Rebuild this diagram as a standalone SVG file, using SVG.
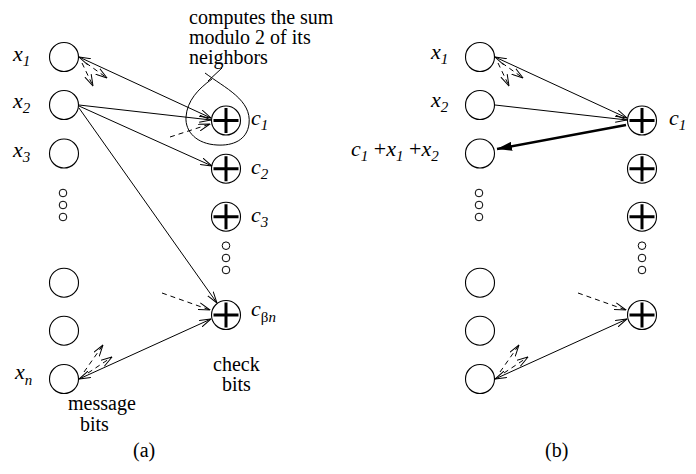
<svg xmlns="http://www.w3.org/2000/svg" width="696" height="474" viewBox="0 0 696 474">
<defs>
<style>
.nd{fill:none;stroke:#000;stroke-width:1.1}
.pl{stroke:#000;stroke-width:3}
.dot{fill:none;stroke:#000;stroke-width:1}
.ln{fill:none;stroke:#000;stroke-width:1}
.ds{fill:none;stroke:#000;stroke-width:1;stroke-dasharray:5,4}
.th{fill:none;stroke:#000;stroke-width:2.6}
.m{font-style:italic;font-size:22px;fill:#000}
.s{font-size:15px}
.t{font-size:20px;fill:#000}
</style>
<marker id="ah" viewBox="0 0 12 8" refX="11.5" refY="4" markerWidth="12" markerHeight="8" markerUnits="userSpaceOnUse" orient="auto-start-reverse">
<path d="M0,0.5 L11.5,4 L0,7.5" fill="none" stroke="#000" stroke-width="1"/>
</marker>
<marker id="fh" viewBox="0 0 16 9" refX="15" refY="4.5" markerWidth="16" markerHeight="9" markerUnits="userSpaceOnUse" orient="auto">
<path d="M0,0 L15,4.5 L0,9 z" fill="#000"/>
</marker>
</defs>
<rect width="696" height="474" fill="#fff"/>

<g id="connectors">
<line class="ln" x1="79" y1="57" x2="211" y2="118" marker-start="url(#ah)" marker-end="url(#ah)"/>
<line class="ds" x1="82" y1="63" x2="93" y2="86" marker-end="url(#ah)"/>
<line class="ds" x1="86" y1="63" x2="107" y2="78" marker-end="url(#ah)"/>
<line class="ln" x1="79" y1="105" x2="211" y2="120" marker-end="url(#ah)"/>
<line class="ln" x1="79" y1="106" x2="212" y2="166" marker-end="url(#ah)"/>
<line class="ln" x1="79" y1="108" x2="217" y2="303" marker-end="url(#ah)"/>
<line class="ds" x1="170" y1="137" x2="210" y2="124" marker-end="url(#ah)"/>
<line class="ds" x1="162" y1="293" x2="210" y2="310" marker-end="url(#ah)"/>
<line class="ln" x1="79" y1="379" x2="211" y2="319" marker-start="url(#ah)" marker-end="url(#ah)"/>
<line class="ds" x1="84" y1="372" x2="103" y2="345" marker-end="url(#ah)"/>
<line class="ds" x1="88" y1="373" x2="112" y2="357" marker-end="url(#ah)"/>
<path class="ln" d="M 205,73 C 225,88 252,100 249,124 C 247,140 233,146 217,145 C 197,144 185,132 186,117 C 187,101 198,89 212,79"/>
<line class="ln" x1="222" y1="68" x2="208" y2="81"/>
<line class="ln" x1="495" y1="57" x2="627" y2="118" marker-start="url(#ah)" marker-end="url(#ah)"/>
<line class="ds" x1="498" y1="63" x2="509" y2="86" marker-end="url(#ah)"/>
<line class="ds" x1="502" y1="63" x2="523" y2="78" marker-end="url(#ah)"/>
<line class="ln" x1="495" y1="105" x2="627" y2="120" marker-end="url(#ah)"/>
<line class="th" x1="626" y1="125" x2="497" y2="149" marker-end="url(#fh)"/>
<line class="ds" x1="578" y1="293" x2="626" y2="310" marker-end="url(#ah)"/>
<line class="ln" x1="495" y1="379" x2="627" y2="319" marker-start="url(#ah)" marker-end="url(#ah)"/>
<line class="ds" x1="500" y1="372" x2="519" y2="345" marker-end="url(#ah)"/>
<line class="ds" x1="504" y1="373" x2="528" y2="357" marker-end="url(#ah)"/>
</g>

<g id="msg-a">
<circle id="a-x1" class="nd" cx="64" cy="57" r="14.5"/>
<circle id="a-x2" class="nd" cx="64" cy="105" r="14.5"/>
<circle id="a-x3" class="nd" cx="64" cy="153.5" r="14.5"/>
<circle class="dot" cx="63" cy="193" r="3.8"/>
<circle class="dot" cx="63" cy="205" r="3.8"/>
<circle class="dot" cx="63" cy="217" r="3.8"/>
<circle id="a-x4" class="nd" cx="64" cy="282.7" r="14.5"/>
<circle id="a-x5" class="nd" cx="64" cy="330.7" r="14.5"/>
<circle id="a-xn" class="nd" cx="64" cy="379" r="14.5"/>
</g>
<g id="chk-a">
<g id="a-c1"><circle class="nd" cx="226" cy="120.5" r="14.5"/><path class="pl" d="M213.5,120.5 H238.5 M226,108 V133"/></g>
<g id="a-c2"><circle class="nd" cx="226" cy="168.7" r="14.5"/><path class="pl" d="M213.5,168.7 H238.5 M226,156.2 V181.2"/></g>
<g id="a-c3"><circle class="nd" cx="226" cy="216.7" r="14.5"/><path class="pl" d="M213.5,216.7 H238.5 M226,204.2 V229.2"/></g>
<circle class="dot" cx="226" cy="245.7" r="3.8"/>
<circle class="dot" cx="226" cy="258" r="3.8"/>
<circle class="dot" cx="226" cy="270" r="3.8"/>
<g id="a-cb"><circle class="nd" cx="226" cy="315" r="14.5"/><path class="pl" d="M213.5,315 H238.5 M226,302.5 V327.5"/></g>
</g>

<g id="msg-b">
<circle id="b-x1" class="nd" cx="480" cy="57" r="14.5"/>
<circle id="b-x2" class="nd" cx="480" cy="105" r="14.5"/>
<circle id="b-x3" class="nd" cx="480" cy="153.5" r="14.5"/>
<circle class="dot" cx="479" cy="193" r="3.8"/>
<circle class="dot" cx="479" cy="205" r="3.8"/>
<circle class="dot" cx="479" cy="217" r="3.8"/>
<circle id="b-x4" class="nd" cx="480" cy="282.7" r="14.5"/>
<circle id="b-x5" class="nd" cx="480" cy="330.7" r="14.5"/>
<circle id="b-xn" class="nd" cx="480" cy="379" r="14.5"/>
</g>
<g id="chk-b">
<g id="b-c1"><circle class="nd" cx="642" cy="120.5" r="14.5"/><path class="pl" d="M629.5,120.5 H654.5 M642,108 V133"/></g>
<g id="b-c2"><circle class="nd" cx="642" cy="168.7" r="14.5"/><path class="pl" d="M629.5,168.7 H654.5 M642,156.2 V181.2"/></g>
<g id="b-c3"><circle class="nd" cx="642" cy="216.7" r="14.5"/><path class="pl" d="M629.5,216.7 H654.5 M642,204.2 V229.2"/></g>
<circle class="dot" cx="642" cy="245.7" r="3.8"/>
<circle class="dot" cx="642" cy="258" r="3.8"/>
<circle class="dot" cx="642" cy="270" r="3.8"/>
<g id="b-cb"><circle class="nd" cx="642" cy="315" r="14.5"/><path class="pl" d="M629.5,315 H654.5 M642,302.5 V327.5"/></g>
</g>

<g id="labels" font-family="'Liberation Serif', 'Times New Roman', 'DejaVu Serif', serif">
<text class="m" x="13" y="61">x<tspan class="s" dy="5">1</tspan></text>
<text class="m" x="13" y="108">x<tspan class="s" dy="5">2</tspan></text>
<text class="m" x="13" y="157">x<tspan class="s" dy="5">3</tspan></text>
<text class="m" x="15" y="379">x<tspan class="s" dy="6">n</tspan></text>
<text class="m" x="251" y="125">c<tspan class="s" dy="5">1</tspan></text>
<text class="m" x="251" y="174">c<tspan class="s" dy="5">2</tspan></text>
<text class="m" x="251" y="222">c<tspan class="s" dy="5">3</tspan></text>
<text class="m" x="251" y="316">c<tspan class="s" dy="6" font-style="normal">β</tspan><tspan class="s">n</tspan></text>
<text class="t" x="189" y="24">computes the sum</text>
<text class="t" x="189" y="44">modulo 2 of its</text>
<text class="t" x="189" y="64">neighbors</text>
<text class="t" x="68" y="410">message</text>
<text class="t" x="80" y="431">bits</text>
<text class="t" x="213" y="371">check</text>
<text class="t" x="222" y="391">bits</text>
<text class="t" x="133" y="457">(a)</text>
<text class="m" x="431" y="59">x<tspan class="s" dy="5">1</tspan></text>
<text class="m" x="431" y="107">x<tspan class="s" dy="5">2</tspan></text>
<text class="m" x="351" y="156">c<tspan class="s" dy="5">1</tspan><tspan dy="-5" font-style="normal"> +</tspan>x<tspan class="s" dy="5">1</tspan><tspan dy="-5" font-style="normal"> +</tspan>x<tspan class="s" dy="5">2</tspan></text>
<text class="m" x="669" y="125">c<tspan class="s" dy="5">1</tspan></text>
<text class="t" x="545" y="457">(b)</text>
</g>
</svg>
